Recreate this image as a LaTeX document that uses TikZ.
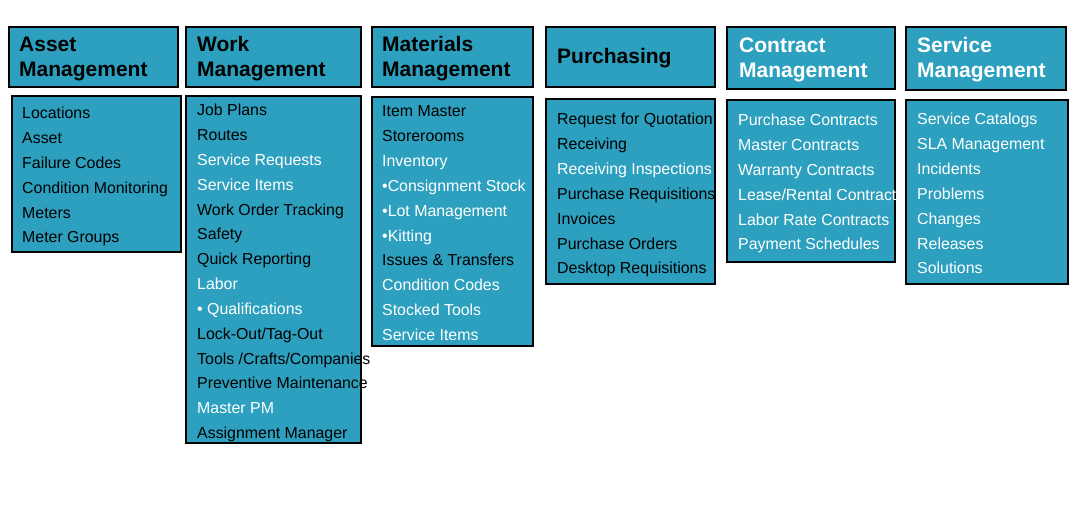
\documentclass[tikz,border=0pt]{standalone}
\usepackage{fontspec}
\setmainfont{Liberation Sans}
\definecolor{boxfill}{RGB}{44,160,190}
\begin{document}
\begin{tikzpicture}[x=1pt,y=-1pt,
  box/.style={draw=black, line width=1.2pt, fill=boxfill, inner sep=0pt, outer sep=0pt, anchor=north west},
  item/.style={anchor=base west, inner sep=0pt, font=\fontsize{15.9}{19}\selectfont},
  head/.style={anchor=base west, inner sep=0pt, font=\fontsize{21}{25}\selectfont\bfseries}]
\useasboundingbox (0,0) rectangle (1079,505);
\fill[white] (0,0) rectangle (1079,505);
% header boxes
\node[box, minimum width=169pt, minimum height=60pt] (hA) at (9,27) {};
\node[box, minimum width=175pt, minimum height=60pt] (hW) at (186,27) {};
\node[box, minimum width=161pt, minimum height=60pt] (hM) at (372,27) {};
\node[box, minimum width=169pt, minimum height=60pt] (hP) at (546,27) {};
\node[box, minimum width=168pt, minimum height=62pt] (hC) at (727,27) {};
\node[box, minimum width=160pt, minimum height=63pt] (hS) at (906,27) {};
% body boxes
\node[box, minimum width=169pt, minimum height=156pt] (bA) at (12,96) {};
\node[box, minimum width=175pt, minimum height=347pt] (bW) at (186,96) {};
\node[box, minimum width=161pt, minimum height=249pt] (bM) at (372,97) {};
\node[box, minimum width=169pt, minimum height=185pt] (bP) at (546,99) {};
\node[box, minimum width=168pt, minimum height=162pt] (bC) at (727,100) {};
\node[box, minimum width=162pt, minimum height=184pt] (bS) at (906,100) {};
% headers
\node[head] (tA1) at (19,52) {Asset};
\node[head] (tA2) at (19,77) {Management};
\node[head] (tW1) at (197,52) {Work};
\node[head] (tW2) at (197,77) {Management};
\node[head] (tM1) at (382,52) {Materials};
\node[head] (tM2) at (382,77) {Management};
\node[head] (tP1) at (557,64) {Purchasing};
\node[head, text=white] (tC1) at (739,53) {Contract};
\node[head, text=white] (tC2) at (739,78) {Management};
\node[head, text=white] (tS1) at (917,53) {Service};
\node[head, text=white] (tS2) at (917,78) {Management};
% items
\foreach \c/\t [count=\i] in {black/{Locations}, black/{Asset}, black/{Failure Codes},
  black/{Condition Monitoring}, black/{Meters}, black/{Meter Groups}}
  \node[item, text=\c] (iA\i) at (22,{119+24.8*(\i-1)}) {\t};
\foreach \c/\t [count=\i] in {black/{Job Plans}, black/{Routes}, white/{Service Requests},
  white/{Service Items}, black/{Work Order Tracking}, black/{Safety}, black/{Quick Reporting},
  white/{Labor}, white/{• Qualifications}, black/{Lock-Out/Tag-Out},
  black/{Tools /Crafts/Companies}, black/{Preventive Maintenance}, white/{Master PM},
  black/{Assignment Manager}}
  \node[item, text=\c] (iW\i) at (197,{116+24.8*(\i-1)}) {\t};
\foreach \c/\t [count=\i] in {black/{Item Master}, black/{Storerooms}, white/{Inventory},
  white/{•Consignment Stock}, white/{•Lot Management}, white/{•Kitting},
  black/{Issues \& Transfers}, white/{Condition Codes}, white/{Stocked Tools},
  white/{Service Items}}
  \node[item, text=\c] (iM\i) at (382,{117+24.8*(\i-1)}) {\t};
\foreach \c/\t [count=\i] in {black/{Request for Quotation}, black/{Receiving},
  white/{Receiving Inspections}, black/{Purchase Requisitions}, black/{Invoices},
  black/{Purchase Orders}, black/{Desktop Requisitions}}
  \node[item, text=\c] (iP\i) at (557,{125+24.8*(\i-1)}) {\t};
\foreach \c/\t [count=\i] in {white/{Purchase Contracts}, white/{Master Contracts},
  white/{Warranty Contracts}, white/{Lease/Rental Contract}, white/{Labor Rate Contracts},
  white/{Payment Schedules}}
  \node[item, text=\c] (iC\i) at (738,{126+24.8*(\i-1)}) {\t};
\foreach \c/\t [count=\i] in {white/{Service Catalogs}, white/{SLA Management},
  white/{Incidents}, white/{Problems}, white/{Changes}, white/{Releases}, white/{Solutions}}
  \node[item, text=\c] (iS\i) at (917,{125+24.8*(\i-1)}) {\t};
\end{tikzpicture}
\end{document}
